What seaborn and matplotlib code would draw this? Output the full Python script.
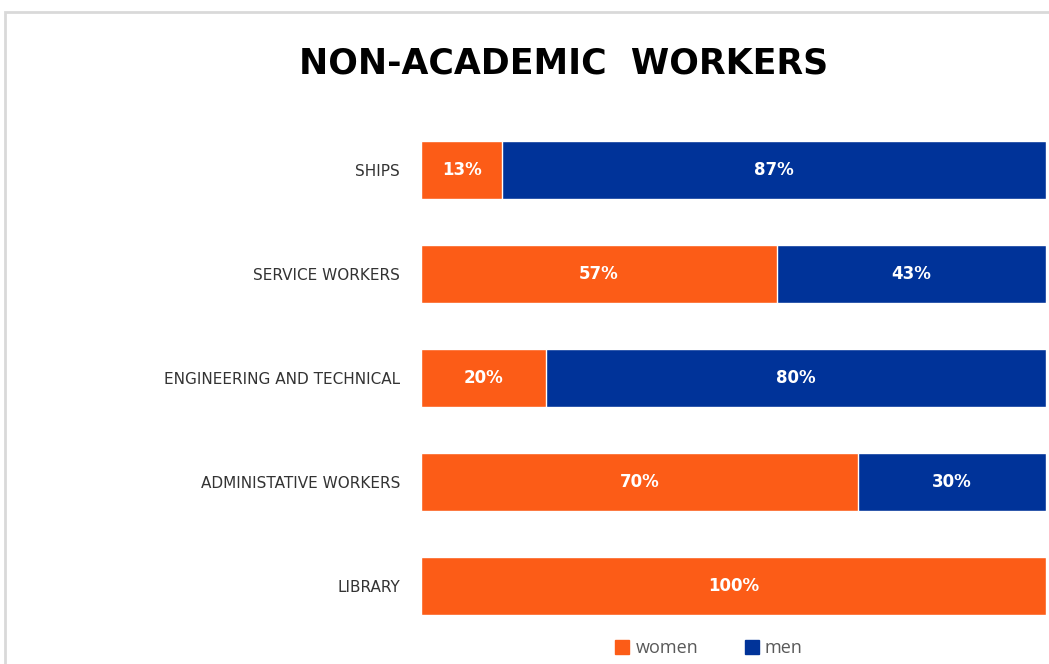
import matplotlib
matplotlib.use("Agg")
import matplotlib.pyplot as plt
import seaborn as sns
import pandas as pd
from matplotlib.patches import Patch, Rectangle

# data
categories = ["SHIPS", "SERVICE WORKERS", "ENGINEERING AND TECHNICAL",
              "ADMINISTATIVE WORKERS", "LIBRARY"]
women = [13, 57, 20, 70, 100]
men = [87, 43, 80, 30, 0]

ORANGE = "#FC5C17"
BLUE = "#003399"

sns.set_theme(style="white")
plt.rcParams["font.family"] = ["Open Sans", "DejaVu Sans"]

df = pd.DataFrame({"category": categories, "women": women, "men": men})
df["total"] = df["women"] + df["men"]

fig = plt.figure(figsize=(10.49, 6.64), dpi=100)
ax = fig.add_axes([0.4013, 0.039, 0.5957, 0.783])

# stacked bars: total (men) first, women drawn over it
sns.barplot(data=df, x="total", y="category", color=BLUE, width=0.56,
            saturation=1, ax=ax, orient="h")
sns.barplot(data=df, x="women", y="category", color=ORANGE, width=0.56,
            saturation=1, ax=ax, orient="h")

for i, (w, m) in enumerate(zip(women, men)):
    if w > 0:
        ax.text(w / 2, i, f"{w}%", color="white", ha="center", va="center",
                fontsize=12, fontweight="bold", family=["DejaVu Sans"])
    if m > 0:
        ax.text(w + m / 2, i, f"{m}%", color="white", ha="center", va="center",
                fontsize=12, fontweight="bold", family=["DejaVu Sans"])

ax.set_xlim(0, 100)
ax.set_xlabel("")
ax.set_ylabel("")
ax.set_xticks([])
ax.tick_params(axis="y", length=0, pad=15)
ax.set_yticks(range(len(categories)))
ax.set_yticklabels(categories, fontsize=11, color="#333333",
                   family=["DejaVu Sans"])
sns.despine(ax=ax, left=True, bottom=True)

fig.text(0.537, 0.905, "NON-ACADEMIC  WORKERS", ha="center", va="center",
         fontsize=25, fontweight="bold", color="black",
         family=["DejaVu Sans"])

handles = [Patch(color=ORANGE, label="women"), Patch(color=BLUE, label="men")]
fig.legend(handles=handles, loc="center", bbox_to_anchor=(0.676, 0.024),
           ncol=2, frameon=False, fontsize=13, handlelength=0.75,
           handleheight=0.8, columnspacing=2.6, handletextpad=0.35,
           labelcolor="#595959")

# light frame of the chart area (clipped at right/bottom in the reference)
fig.patches.append(Rectangle((0.0045, -0.05), 1.2, 1.032, transform=fig.transFigure,
                             fill=False, edgecolor="#D9D9D9", linewidth=2))

fig.savefig("out.png", dpi=100)
